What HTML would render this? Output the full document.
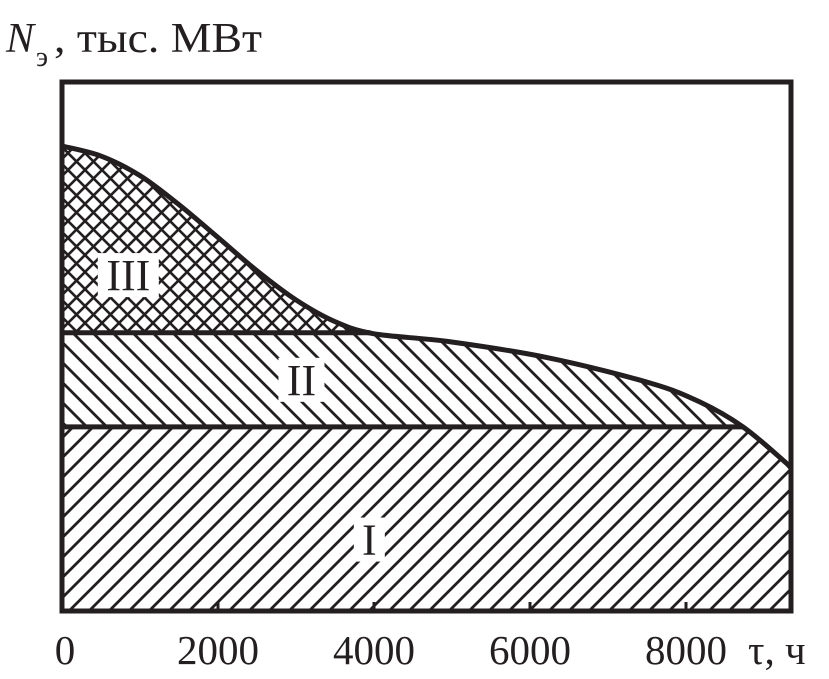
<!DOCTYPE html>
<html><head><meta charset="utf-8">
<style>
html,body{margin:0;padding:0;background:#fff;}
svg{display:block;}
text{font-family:"Liberation Serif","DejaVu Serif",serif;fill:#231f20;}
</style></head>
<body>
<svg id="chart" width="829" height="679" viewBox="0 0 829 679">
<defs>
<pattern id="hatchI" patternUnits="userSpaceOnUse" width="20" height="20">
<path d="M-2,22 L22,-2 M-2,2 L2,-2 M18,22 L22,18" stroke="#231f20" stroke-width="2.8"/>
</pattern>
<pattern id="hatchII" patternUnits="userSpaceOnUse" width="20" height="20">
<path d="M-2,-2 L22,22 M18,-2 L22,2 M-2,18 L2,22" stroke="#231f20" stroke-width="2.8"/>
</pattern>
<pattern id="hatchIII" patternUnits="userSpaceOnUse" width="17" height="17">
<path d="M-2,-2 L19,19 M-2,19 L19,-2 M15,-2 L19,2 M-2,15 L2,19 M15,19 L19,15 M-2,2 L2,-2" stroke="#231f20" stroke-width="2.6"/>
</pattern>
<clipPath id="frameClip"><rect x="62" y="80" width="729" height="531"/></clipPath>
</defs>
<g id="plot" clip-path="url(#frameClip)"></g>
<rect x="62" y="82" width="729" height="529" fill="none" stroke="#231f20" stroke-width="5"/>
<g id="axes"></g>
<text x="6" y="52" font-size="42" font-style="italic">N</text>
<text x="36" y="66" font-size="28">э</text>
<text x="54" y="52" font-size="42" textLength="208" lengthAdjust="spacingAndGlyphs">, тыс. МВт</text>
<text x="748" y="664" font-size="41">τ, ч</text>
</svg>
<script>
const tauHours = [0, 500, 1000, 1500, 2000, 2500, 3000, 3500, 4000, 4974, 6256, 7538, 8179, 8731, 9244, 9346];
const loadValues = [87.9, 86.0, 82.3, 76.8, 70.6, 64.3, 58.8, 54.7, 52.4, 50.9, 47.8, 43.1, 39.5, 34.8, 28.5, 27.0];
const baseLoadLevel = [34.8];
const peakBoundLevel = [52.6];
const xTickValues = [0, 2000, 4000, 6000, 8000];
const xTickLabels = ["0", "2000", "4000", "6000", "8000"];
const zoneLabels = ["I", "II", "III"];

const X0 = 62, X1 = 791, Y0 = 611, Y1 = 82;
const xMax = 9346, yMax = 100;
function xs(v){ return X0 + v / xMax * (X1 - X0); }
function ys(v){ return Y0 - v / yMax * (Y0 - Y1); }
const NS = "http://www.w3.org/2000/svg";
function mk(tag, attrs, parent){ const e = document.createElementNS(NS, tag); for (const k in attrs) e.setAttribute(k, attrs[k]); parent.appendChild(e); return e; }

const pts = tauHours.map((t, i) => [xs(t), ys(loadValues[i])]);
function curvePath(p){
  let d = "M" + p[0][0] + "," + p[0][1];
  for (let i = 0; i < p.length - 1; i++) {
    const a = p[Math.max(0, i - 1)], b = p[i], c = p[i + 1], e = p[Math.min(p.length - 1, i + 2)];
    const c1 = [b[0] + (c[0] - a[0]) / 6, b[1] + (c[1] - a[1]) / 6];
    const c2 = [c[0] - (e[0] - b[0]) / 6, c[1] - (e[1] - b[1]) / 6];
    d += " C" + c1[0] + "," + c1[1] + " " + c2[0] + "," + c2[1] + " " + c[0] + "," + c[1];
  }
  return d;
}
const cp = curvePath(pts);
const plot = document.getElementById("plot");
const yI = ys(baseLoadLevel[0]), yII = ys(peakBoundLevel[0]);
const underCurve = cp + " L" + X1 + "," + Y0 + " L" + X0 + "," + Y0 + " Z";

const clip = mk("clipPath", {id: "curveClip"}, plot);
mk("path", {d: underCurve}, clip);

const zI = mk("rect", {x: X0, y: yI, width: X1 - X0, height: Y0 - yI, fill: "url(#hatchI)", "clip-path": "url(#curveClip)"}, plot);


const zII = mk("rect", {x: X0, y: yII, width: X1 - X0, height: yI - yII, fill: "url(#hatchII)", "clip-path": "url(#curveClip)"}, plot);


const zIII = mk("rect", {x: X0, y: Y1, width: X1 - X0, height: yII - Y1, fill: "url(#hatchIII)", "clip-path": "url(#curveClip)"}, plot);



function crossX(level){
  for (let i = 0; i < loadValues.length - 1; i++) {
    if (loadValues[i] >= level && loadValues[i + 1] <= level) {
      const f = (loadValues[i] - level) / (loadValues[i] - loadValues[i + 1]);
      return xs(tauHours[i] + f * (tauHours[i + 1] - tauHours[i]));
    }
  }
  return X1;
}
const lI = mk("line", {x1: X0, x2: crossX(baseLoadLevel[0]), y1: yI, y2: yI, stroke: "#231f20", "stroke-width": 5}, plot);


const lII = mk("line", {x1: X0, x2: crossX(peakBoundLevel[0]), y1: yII, y2: yII, stroke: "#231f20", "stroke-width": 5}, plot);


const curve = mk("path", {d: cp, fill: "none", stroke: "#231f20", "stroke-width": 5}, plot);



const zonePos = [[3940, 13.5], [3070, 43.7], [850, 63.5]];
zoneLabels.forEach((lab, i) => {
  const w = lab.length * 15 + 16;
  const bx = xs(zonePos[i][0]), by = ys(zonePos[i][1]);
  const bg = mk("rect", {x: bx - w / 2, y: by - 22, width: w, height: 44, fill: "#fff"}, plot);
  
  
  const t = mk("text", {x: bx, y: by + 15, "font-size": 44, "text-anchor": "middle"}, plot);
  t.textContent = lab;
  
  
});

const axes = document.getElementById("axes");
xTickValues.forEach((v, i) => {
  const x = xs(v);
  if (v > 0) {
    const tk = mk("line", {x1: x, x2: x, y1: Y0, y2: Y0 - 9, stroke: "#231f20", "stroke-width": 3}, axes);
    
    
  }
  const t = mk("text", {x: v === 0 ? x + 3 : x, y: 664, "font-size": 41, "text-anchor": "middle"}, axes);
  t.textContent = xTickLabels[i];
  
  
});
</script>
</body></html>
